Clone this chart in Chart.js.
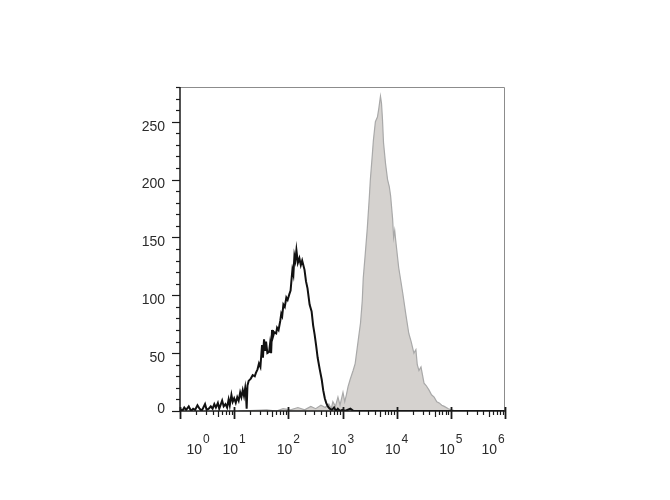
<!DOCTYPE html>
<html>
<head>
<meta charset="utf-8">
<script src="https://cdn.jsdelivr.net/npm/chart.js@4.4.0/dist/chart.umd.min.js"></script>
<style>
    html, body { margin: 0; padding: 0; background: #ffffff; }
    #wrap { width: 670px; height: 500px; position: relative; }
</style>
</head>
<body>
<div id="wrap"><canvas id="histChart"></canvas></div>
<script>
// ==========================================================
// DATA (intensity on log axis, counts on linear axis)
// ==========================================================

// isotype control - black outline histogram
const controlIntensity = [
    1.0, 1.1, 1.2, 1.3, 1.45, 1.6, 1.75, 1.9, 2.1, 2.3, 2.5, 2.7, 2.9, 3.1, 3.4, 3.7,
    4.0, 4.3, 4.6, 5.0, 5.3, 5.6, 6.0, 6.4, 6.9, 7.4, 7.9, 8.3, 8.9, 9.4, 10.0, 10.7,
    11.4, 12.1, 12.9, 13.6, 14.4, 15.2, 16.0, 16.5, 17.0, 17.6, 18.5, 20.3, 22.0, 24.0,
    25.2, 27.0, 28.7, 30.5, 32.7, 34.0, 35.6, 37.5, 38.8, 41.0, 44.2, 46.0, 48.1, 50.0,
    52.0, 55.0, 59.7, 62.0, 66.0, 71.0, 74.0, 77.0, 81.0, 86.0, 91.8, 97.0, 104.4,
    110.0, 113.8, 118.9, 124.0, 129.5, 135.0, 141.0, 150.0, 160.0, 170.0, 180.0, 199.0,
    212.0, 226.0, 247.0, 269.0, 287.0, 306.0, 327.0, 348.0, 380.0, 414.0, 440.0, 471.0,
    500.0, 536.0, 580.0, 637.0, 700.0, 756.0, 820.0, 898.0, 1000, 1114, 1400, 1600,
    3000, 10000, 100000, 1000000
];
const controlCounts = [
    2, 0, 3, 1, 4, 0, 2, 1, 5, 2, 0, 3, 6, 1, 2, 4,
    2, 6, 3, 7, 2, 5, 9, 4, 6, 3, 10, 5, 14, 8, 11, 7,
    12, 9, 16, 12, 18, 13, 20, 14, 2, 22, 26, 28, 31, 30,
    33, 36, 41, 38, 57, 46, 62, 52, 60, 50, 51, 58, 50, 70,
    64, 68, 67, 72, 70, 78, 84, 82, 92, 90, 98, 96, 101,
    104, 112, 122, 118, 134, 130, 139, 128, 132, 126, 130, 122,
    112, 106, 92, 86, 74, 66, 56, 46, 36, 27, 18, 11,
    7, 4, 2, 1, 3, 0, 2, 0, 1, 0, 2, 0,
    0, 0, 0, 0
];

// stained sample - grey filled histogram
const stainedIntensity = [
    12, 40, 60, 80, 110, 150, 200, 260, 320, 400, 480, 560, 620, 664, 740, 824,
    900, 1021, 1100, 1180, 1267, 1380, 1571, 1713, 1950, 2150, 2314, 2416, 2635,
    2871, 3129, 3268, 3560, 3718, 4048, 4416, 4700, 5023, 5248, 5470, 5715, 6223,
    6792, 7300, 7727, 8414, 8790, 9200, 9572, 10890, 12940, 14720, 16750, 18500,
    20800, 22650, 24000, 25770, 28120, 31990, 35000, 39630, 44000, 49200, 55000,
    60950, 68000, 75650, 90000, 102100, 126800
];
const stainedCounts = [
    0, 1, 0, 2, 1, 3, 1, 4, 2, 5, 3, 6, 2, 8, 4, 12,
    5, 16, 8, 14, 21, 27, 35, 41, 61, 76, 95, 115, 136,
    158, 185, 200, 222, 234, 250, 254, 262, 272, 266, 252, 232, 214,
    200, 194, 186, 166, 150, 156, 148, 124, 102, 84, 67, 60,
    50, 53, 40, 35, 38, 24, 22, 18, 14, 12, 8,
    7, 5, 4, 2, 1, 0
];

// axis ticks
const yTickValues = [0, 50, 100, 150, 200, 250];
const yMinorStep = 10;
const xDecades = [1, 10, 100, 1000, 10000, 100000, 1000000];
const xExponents = ['0', '1', '2', '3', '4', '5', '6'];

function toPoints(xs, ys) {
    return xs.map((x, i) => ({ x: x, y: ys[i] }));
}

// ==========================================================
// AXES, FRAME AND LABELS (drawn with the chart's own scales)
// ==========================================================

const frameAxes = {
    id: 'frameAxes',
    afterDraw(chart) {
        const ctx = chart.ctx;
        const area = chart.chartArea;
        const xs = chart.scales.x;
        const ys = chart.scales.y;
        ctx.save();

        // thin grey frame on top / right
        ctx.strokeStyle = '#8c8c8c';
        ctx.lineWidth = 1;
        ctx.beginPath();
        ctx.moveTo(area.left, area.top + 0.5);
        ctx.lineTo(area.right - 0.5, area.top + 0.5);
        ctx.lineTo(area.right - 0.5, area.bottom);
        ctx.stroke();

        // left and bottom axes
        ctx.strokeStyle = '#1a1a1a';
        ctx.lineWidth = 1.5;
        ctx.beginPath();
        ctx.moveTo(area.left, area.top);
        ctx.lineTo(area.left, area.bottom);
        ctx.lineTo(area.right, area.bottom);
        ctx.stroke();

        // y minor + major ticks
        ctx.lineWidth = 1.2;
        for (let v = 0; v <= ys.max; v += yMinorStep) {
            const py = Math.round(ys.getPixelForValue(v)) + 0.5;
            const major = yTickValues.includes(v);
            ctx.beginPath();
            ctx.moveTo(area.left - (major ? 8 : 4), py);
            ctx.lineTo(area.left, py);
            ctx.stroke();
        }

        // x decade + minor ticks
        xDecades.forEach((d, i) => {
            const px = Math.round(xs.getPixelForValue(d)) + 0.5;
            ctx.lineWidth = 1.8;
            ctx.beginPath();
            ctx.moveTo(px, area.bottom - 4);
            ctx.lineTo(px, area.bottom + 8);
            ctx.stroke();
            if (i < xDecades.length - 1) {
                ctx.lineWidth = 1.2;
                for (let m = 2; m <= 9; m++) {
                    const mx = Math.round(xs.getPixelForValue(d * m)) + 0.5;
                    ctx.beginPath();
                    ctx.moveTo(mx, area.bottom);
                    ctx.lineTo(mx, area.bottom + (m === 5 ? 6 : 4));
                    ctx.stroke();
                }
            }
        });

        // y labels
        ctx.fillStyle = '#2b2b2b';
        ctx.font = '14px "Liberation Sans", Arial, sans-serif';
        ctx.textAlign = 'right';
        ctx.textBaseline = 'middle';
        yTickValues.forEach(v => {
            const py = ys.getPixelForValue(v);
            ctx.fillText(String(v), area.left - 15, Math.min(py + 5, area.bottom - 2));
        });

        // x labels: 10 with superscript exponent
        const lastIdx = xDecades.length - 1;
        xDecades.forEach((d, i) => {
            let cx = xs.getPixelForValue(d);
            if (i === 0) cx += 18;
            if (i === lastIdx) cx -= 12;
            ctx.font = '14px "Liberation Sans", Arial, sans-serif';
            const baseW = ctx.measureText('10').width;
            ctx.font = '12px "Liberation Sans", Arial, sans-serif';
            const expW = ctx.measureText(xExponents[i]).width;
            const startX = cx - (baseW + expW + 1) / 2;
            ctx.textAlign = 'left';
            ctx.textBaseline = 'alphabetic';
            ctx.font = '14px "Liberation Sans", Arial, sans-serif';
            ctx.fillText('10', startX, 454);
            ctx.font = '12px "Liberation Sans", Arial, sans-serif';
            ctx.fillText(xExponents[i], startX + baseW + 1, 443);
        });

        ctx.restore();
    }
};

// ==========================================================
// CHART
// ==========================================================

function renderHistogram() {
    const ctx = document.getElementById('histChart').getContext('2d');
    new Chart(ctx, {
        type: 'line',
        data: {
            datasets: [
                {
                    label: 'Stained',
                    data: toPoints(stainedIntensity, stainedCounts),
                    borderColor: '#a9a9a9',
                    backgroundColor: 'rgba(213, 210, 207, 1)',
                    borderWidth: 1.2,
                    fill: 'origin',
                    pointRadius: 0,
                    tension: 0,
                    order: 2
                },
                {
                    label: 'Isotype control',
                    data: toPoints(controlIntensity, controlCounts),
                    borderColor: '#111111',
                    borderWidth: 2,
                    fill: false,
                    pointRadius: 0,
                    tension: 0,
                    order: 1
                }
            ]
        },
        options: {
            responsive: true,
            maintainAspectRatio: false,
            animation: false,
            layout: {
                padding: { left: 180, right: 165, top: 87, bottom: 89 }
            },
            plugins: {
                legend: { display: false },
                tooltip: { enabled: false }
            },
            scales: {
                x: {
                    type: 'logarithmic',
                    display: false,
                    min: 1,
                    max: 1000000
                },
                y: {
                    type: 'linear',
                    display: false,
                    min: 0,
                    max: 280
                }
            }
        },
        plugins: [frameAxes]
    });
}

document.addEventListener('DOMContentLoaded', renderHistogram);
</script>
</body>
</html>
